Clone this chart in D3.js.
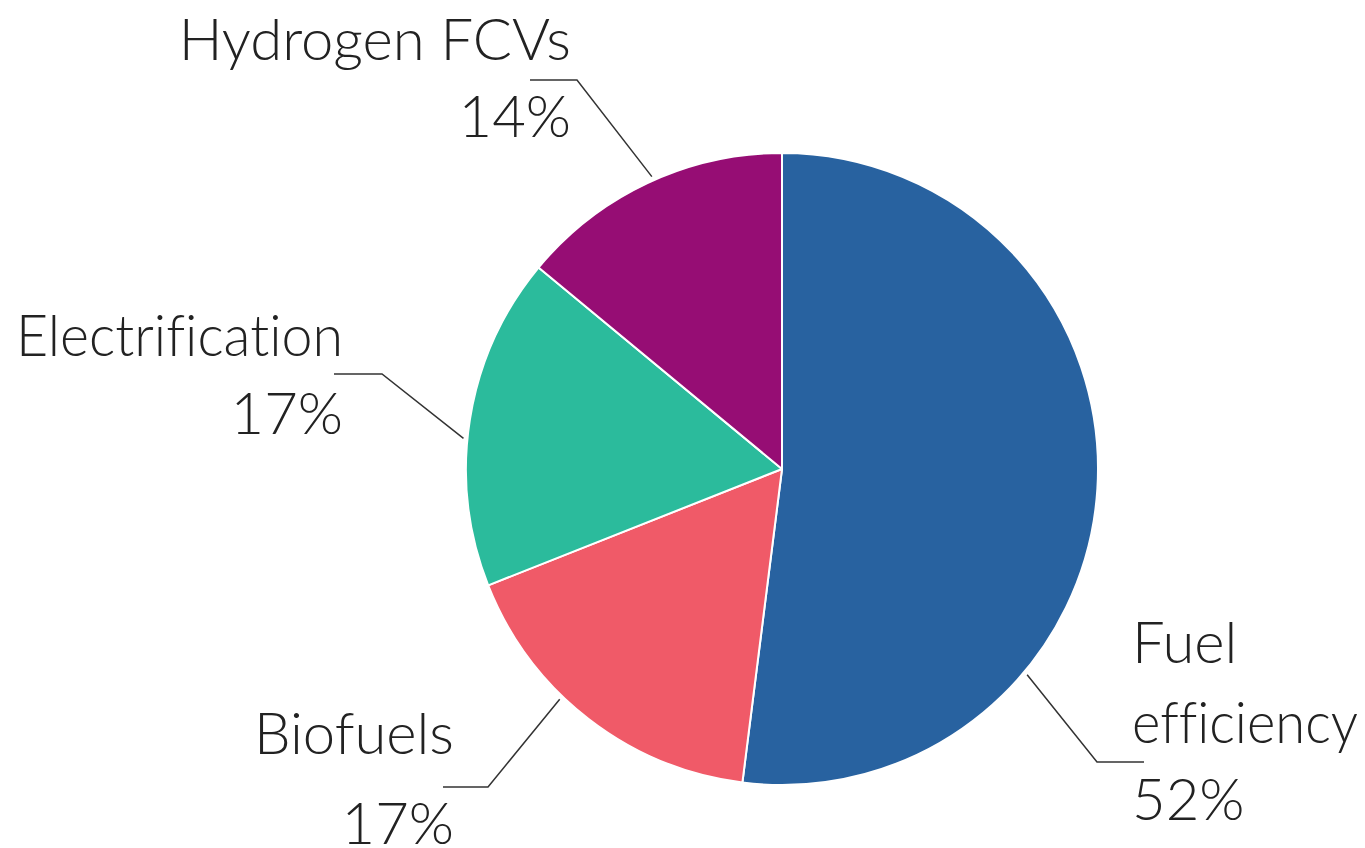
<!DOCTYPE html>
<html>
<head>
<meta charset="utf-8">
<script src="https://cdn.jsdelivr.net/npm/d3@7"></script>
<style>
  html, body { margin: 0; padding: 0; background: #ffffff; }
  svg { display: block; }
  text { font-family: "Lato", "Noto Sans", sans-serif; font-weight: 300; fill: #222222;
         font-variant-ligatures: none; font-feature-settings: "liga" 0; }
</style>
</head>
<body>
<svg id="chart" width="1365" height="848"></svg>
<script>
// ---- data ----
const categories = ["Fuel efficiency", "Biofuels", "Electrification", "Hydrogen FCVs"];
const values = [52, 17, 17, 14];
const colors = ["#2862a0", "#f05a68", "#2bbb9c", "#960d74"];

// ---- layout ----
const W = 1365, H = 848;
const cx = 782, cy = 469, R = 316;
const fontSize = 58;

// label layout per category: leader start angle (deg clockwise from top),
// elbow point, end x, text anchor position & lines (w = fitted text width)
const labelLayout = [
  { angle: 130, elbow: [1097, 762], endX: 1144, anchor: "start", x: 1132,
    lines: [{ t: "Fuel", y: 663 }, { t: "efficiency", y: 743, w: 226 }, { t: "pct", y: 820 }] },
  { angle: 224, elbow: [488, 787], endX: 443, anchor: "end", x: 454,
    lines: [{ t: "Biofuels", y: 754 }, { t: "pct", y: 844 }] },
  { angle: 275.5, elbow: [382, 374], endX: 334, anchor: "end", x: 343,
    lines: [{ t: "Electrification", y: 356, w: 327 }, { t: "pct", y: 434 }] },
  { angle: 336, elbow: [577, 80], endX: 530, anchor: "end", x: 571,
    lines: [{ t: "Hydrogen FCVs", y: 60 }, { t: "pct", y: 137 }] }
];

const svg = d3.select("#chart");
const g = svg.append("g").attr("transform", `translate(${cx},${cy})`);

const pie = d3.pie().sort(null).value(d => d.v);
const arc = d3.arc().innerRadius(0).outerRadius(R);
const data = categories.map((c, i) => ({ c, v: values[i], color: colors[i] }));
const arcs = pie(data);

g.selectAll("path.slice")
  .data(arcs)
  .join("path")
  .attr("class", "slice")
  .attr("d", arc)
  .attr("fill", d => d.data.color)
  .attr("stroke", "#ffffff")
  .attr("stroke-width", 2)
  .attr("stroke-linejoin", "round");

// leaders and labels
const total = d3.sum(values);
arcs.forEach((a, i) => {
  const L = labelLayout[i];
  const ang = L.angle * Math.PI / 180;
  const sx = cx + Math.sin(ang) * (R + 4);
  const sy = cy - Math.cos(ang) * (R + 4);
  svg.append("polyline")
    .attr("points", `${sx},${sy} ${L.elbow[0]},${L.elbow[1]} ${L.endX},${L.elbow[1]}`)
    .attr("fill", "none")
    .attr("stroke", "#333333")
    .attr("stroke-width", 1.5);
  L.lines.forEach(ln => {
    const txt = ln.t === "pct" ? Math.round(a.data.v / total * 100) + "%" : ln.t;
    const t = svg.append("text")
      .attr("x", L.x)
      .attr("y", ln.y)
      .attr("text-anchor", L.anchor)
      .attr("font-size", fontSize)
      .text(txt);
    if (ln.w) t.attr("textLength", ln.w).attr("lengthAdjust", "spacingAndGlyphs");
  });
});
</script>
</body>
</html>
